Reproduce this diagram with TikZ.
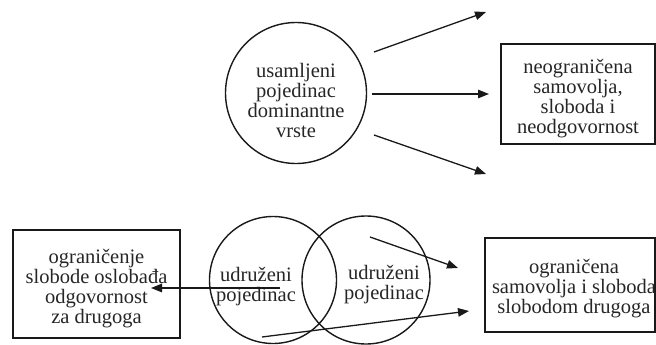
\documentclass[tikz,border=0pt]{standalone}
\usepackage{fontspec}
\setmainfont{Liberation Serif}
\usetikzlibrary{arrows.meta}
\begin{document}
\begin{tikzpicture}[x=1pt,y=-1pt,
  txt/.style={align=center,text=black!85,font=\fontsize{20.5}{20}\selectfont,inner sep=0pt},
  ring/.style={draw=black!90,line width=1.4pt,circle,inner sep=0pt},
  rbox/.style={draw=black!90,line width=1.4pt,rectangle,inner sep=0pt},
  arr/.style={draw=black!90,line width=1.3pt,-{Triangle[length=11pt,width=8.5pt]}}]
\useasboundingbox (0,0) rectangle (656,345);
% top
\node[ring,minimum size=141pt] (c1) at (296,93) {};
\node[txt] (t1) at (296,100) {usamljeni\\pojedinac\\dominantne\\vrste};
\node[rbox,minimum width=154pt,minimum height=100pt] (b1) at (578,94) {};
\node[txt] (t2) at (578,99) {neograničena\\samovolja,\\sloboda i\\neodgovornost};
\coordinate (a1s) at (374,52);
\coordinate (a1e) at (486,12);
\coordinate (a2s) at (372,94);
\coordinate (a2e) at (489,94);
\coordinate (a3s) at (374,135);
\coordinate (a3e) at (486,174);
\draw[arr] (a1s) -- (a1e);
\draw[arr] (a2s) -- (a2e);
\draw[arr] (a3s) -- (a3e);
% bottom
\node[ring,minimum size=127pt] (c2) at (273,280) {};
\node[ring,minimum size=128pt] (c3) at (366,280) {};
\node[txt] (t3) at (256,287) {udruženi\\pojedinac};
\node[txt] (t4) at (384,285) {udruženi\\pojedinac};
\node[rbox,minimum width=167pt,minimum height=108pt] (b2) at (96.5,284) {};
\node[txt] (t5) at (96.5,289) {ograničenje\\slobode oslobađa\\odgovornost\\za drugoga};
\node[rbox,minimum width=170pt,minimum height=94pt] (b3) at (570,285) {};
\node[txt] (t6) at (574,289) {ograničena\\samovolja i sloboda\\slobodom drugoga};
\coordinate (a4s) at (280,288);
\coordinate (a4e) at (151,288);
\draw[arr] (a4s) -- (a4e);
\coordinate (a5s) at (370,237);
\coordinate (a5e) at (458,268);
\coordinate (a6s) at (262,337);
\coordinate (a6e) at (469,311);
\draw[arr] (a5s) -- (a5e);
\draw[arr] (a6s) -- (a6e);
\end{tikzpicture}
\end{document}
